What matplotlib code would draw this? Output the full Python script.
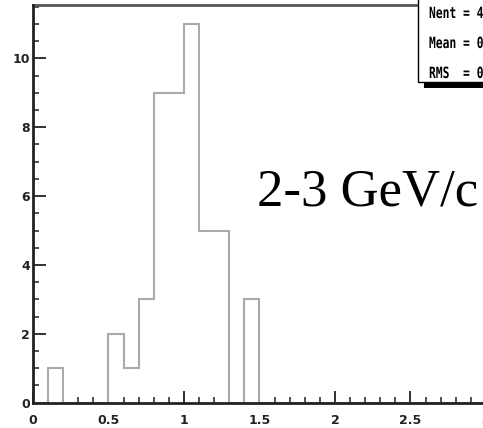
import numpy as np
import matplotlib
matplotlib.use("Agg")
import matplotlib.pyplot as plt
from matplotlib.patches import Rectangle, PathPatch
from matplotlib.textpath import TextPath
from matplotlib.font_manager import FontProperties
from matplotlib.transforms import Affine2D

# histogram data: 30 bins of width 0.1 from 0 to 3
bin_edges = np.linspace(0.0, 3.0, 31)
counts = [0, 1, 0, 0, 0, 2, 1, 3, 9, 9,
          11, 5, 5, 0, 3, 0, 0, 0, 0, 0,
          0, 0, 0, 0, 0, 0, 0, 0, 0, 0]

x_major = [0, 0.5, 1, 1.5, 2, 2.5, 3]
x_labels = ["0", "0.5", "1", "1.5", "2", "2.5", "3"]
y_major = [0, 2, 4, 6, 8, 10]

stats_lines = ["Nent = 49", "Mean = 0.9847", "RMS  = 0.2352"]
label_text = "2-3 GeV/c"

W, H = 483, 428
fig = plt.figure(figsize=(W / 100, H / 100), dpi=100)
fig.patch.set_facecolor("white")


def narrow_text(s, x, y_base, em, sx, family, weight="normal", z=8):
    # text drawn as a path so it can be squeezed sideways (pixel font look);
    # x, y_base in pixels from the top-left corner
    tp = TextPath((0, 0), s, size=em,
                  prop=FontProperties(family=family, weight=weight))
    tr = Affine2D().scale(sx, 1).translate(x, H - y_base)
    p = PathPatch(tp, transform=tr, facecolor="black", edgecolor="none",
                  zorder=z)
    fig.add_artist(p)


# axes frame placed in pixels (right part runs past the picture edge)
x0, x1 = 33, 486
ytop, ybot = 5, 402.7
ax = fig.add_axes([x0 / W, (H - ybot) / H, (x1 - x0) / W, (ybot - ytop) / H])

ax.stairs(counts, bin_edges, color="#aaaaaa", linewidth=1.5, zorder=2)

ax.set_xlim(0, 3)
ax.set_ylim(0, 11.55)

ax.set_xticks(x_major)
ax.set_xticklabels(x_labels)
ax.set_xticks(np.arange(0, 3.01, 0.1), minor=True)
ax.set_yticks(y_major)
ax.set_yticks(np.arange(0, 11.6, 0.5), minor=True)

ax.tick_params(which="major", direction="in", length=9, width=1.3,
               color="#222222", labelsize=9, pad=8)
ax.tick_params(which="minor", direction="in", length=4.5, width=1.1,
               color="#222222")
ax.tick_params(axis="x", which="both", top=False)
ax.tick_params(axis="y", which="both", right=False, pad=2)
for lab in ax.get_xticklabels() + ax.get_yticklabels():
    lab.set_fontweight("bold")
    lab.set_color("#222222")

for side in ["left", "bottom"]:
    ax.spines[side].set_linewidth(2.0)
    ax.spines[side].set_color("#222222")
    ax.spines[side].set_zorder(3)
ax.spines["top"].set_linewidth(2.0)
ax.spines["top"].set_color("#555555")
ax.spines["right"].set_visible(False)

# stats box (cut off by the right/top edge)
bx, bb = 418, 82
shadow = Rectangle(((bx + 6) / W, (H - bb - 6) / H), 1, 1,
                   transform=fig.transFigure, facecolor="black",
                   edgecolor="none", zorder=5)
box = Rectangle((bx / W, (H - bb) / H), 1, 1, transform=fig.transFigure,
                facecolor="white", edgecolor="black", linewidth=1.0, zorder=6)
fig.add_artist(shadow)
fig.add_artist(box)
for i, line in enumerate(stats_lines):
    narrow_text(line, 429, 18 + 30 * i, 15.5, 0.73,
                "DejaVu Sans Mono", weight="bold")

fig.text(257 / W, (H - 206) / H, label_text, fontsize=38,
         family="Liberation Serif", va="baseline", ha="left")

fig.savefig("out.png", dpi=100)
